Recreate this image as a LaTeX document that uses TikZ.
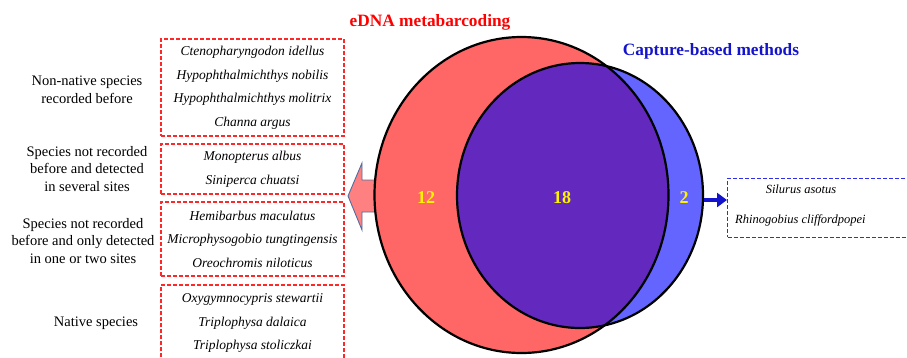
\documentclass[tikz,border=0pt]{standalone}
\usepackage{fontspec}
\setmainfont{Liberation Serif}
\usetikzlibrary{arrows.meta}
\definecolor{vennred}{RGB}{255,102,102}
\definecolor{vennblue}{RGB}{100,100,255}
\definecolor{vennpurple}{RGB}{99,41,191}
\definecolor{capblue}{RGB}{20,20,204}
\definecolor{boxblue}{RGB}{45,45,235}
\definecolor{boxred}{RGB}{255,40,40}
\definecolor{arrowred}{RGB}{255,128,128}
\definecolor{arrowedge}{RGB}{79,110,160}
\begin{document}
\begin{tikzpicture}[x=1pt, y=-1pt,
    redbox/.style={draw=boxred, dash pattern=on 4pt off 2pt, line width=1.2pt, minimum width=183pt, inner sep=0pt, align=center, font=\fontsize{13.5}{23.5}\selectfont\itshape},
    bluebox/.style={draw=boxblue, dash pattern=on 4pt off 2pt, line width=1.2pt, minimum width=200pt, minimum height=59pt, inner sep=0pt},
    group/.style={align=center, font=\fontsize{14.5}{17.5}\selectfont},
    count/.style={text=yellow, font=\fontsize{18}{20}\selectfont\bfseries},
    species/.style={inner sep=0pt, font=\fontsize{12.5}{14}\selectfont\itshape}]
    \clip (0,0) rectangle (907,357);

    % Draw the left groups
    \node[group] (nonnative) at (87,90) {Non-native species\\recorded before};
    \node[redbox, minimum height=97pt] (nonnativebox) at (252.5,87.5)
        {Ctenopharyngodon idellus\\Hypophthalmichthys nobilis\\Hypophthalmichthys molitrix\\Channa argus};
    \node[group] (several) at (87,169) {Species not recorded\\before and detected\\in several sites};
    \node[redbox, minimum height=50pt] (severalbox) at (252.5,169)
        {Monopterus albus\\Siniperca chuatsi};
    \node[group] (onetwo) at (83,241) {Species not recorded\\before and only detected\\in one or two sites};
    \node[redbox, minimum height=74pt] (onetwobox) at (252.5,239)
        {Hemibarbus maculatus\\Microphysogobio tungtingensis\\Oreochromis niloticus};
    \node[group] (native) at (96,323) {Native species};
    \node[redbox, minimum height=76pt] (nativebox) at (252.5,323)
        {Oxygymnocypris stewartii\\Triplophysa dalaica\\Triplophysa stoliczkai};

    % Draw the big arrow
    \draw[fill=arrowred, draw=arrowedge, line width=0.9pt] (375,180) -- (362,180) -- (362,163) -- (348,196)
        -- (362,230) -- (362,212) -- (375,212) -- cycle;

    % Draw the two sets
    \fill[vennred] (521.5,195) ellipse [x radius=147, y radius=158];
    \fill[vennblue] (580,195.5) ellipse [x radius=123, y radius=132.5];
    \begin{scope}
        \clip (521.5,195) ellipse [x radius=147, y radius=158];
        \fill[vennpurple] (580,195.5) ellipse [x radius=123, y radius=132.5];
    \end{scope}
    \draw[line width=2.2pt] (521.5,195) ellipse [x radius=147, y radius=158];
    \draw[line width=2.2pt] (580,195.5) ellipse [x radius=123, y radius=132.5];

    \node[text=red, font=\fontsize{17.3}{20}\selectfont\bfseries] (edna) at (430,22) {eDNA metabarcoding};
    \node[text=capblue, font=\fontsize{17.3}{20}\selectfont\bfseries] (capture) at (711,51) {Capture-based methods};
    \node[count] (ednaonly) at (426,198) {12};
    \node[count] (both) at (562,198) {18};
    \node[count] (captureonly) at (684,198) {2};

    % Draw the right box
    \node[bluebox, anchor=north west] (rbox) at (727,177.5) {};
    \node[species] (silurus) at (801,189) {Silurus asotus};
    \node[species, anchor=west] (rhino) at (735,220) {Rhinogobius cliffordpopei};
    \coordinate (capeast) at (704,200);
    \draw[capblue, line width=3.5pt, -{Triangle[length=10pt, width=14pt]}] (capeast) -- (capeast -| rbox.west);
\end{tikzpicture}
\end{document}
